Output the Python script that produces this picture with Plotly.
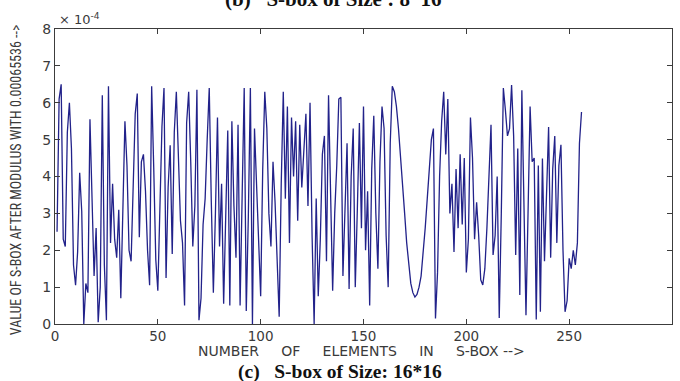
import plotly.graph_objects as go

# S-box element index and value (in units of 1e-4)
values_e4 = [
    2.5, 6.1, 6.5, 2.3, 2.1, 5.2, 6.0, 4.75, 1.6, 1.05,
    1.95, 4.1, 3.05, 0.0, 1.1, 0.85, 5.55, 3.6, 1.3, 2.6,
    0.05, 1.0, 6.2, 1.6, 0.1, 6.45, 2.2, 3.8, 2.3, 1.8,
    3.1, 0.7, 3.0, 5.5, 4.3, 2.0, 1.7, 3.8, 5.7, 6.25,
    2.35, 4.4, 4.6, 3.6, 2.0, 1.05, 6.45, 4.25, 1.75, 0.9,
    3.1, 5.35, 6.4, 1.25, 3.7, 4.85, 1.9, 5.2, 6.3, 4.5,
    2.8, 2.2, 0.5, 5.45, 6.3, 4.4, 2.1, 3.2, 6.35, 0.1,
    0.7, 2.7, 3.4, 5.0, 6.4, 3.3, 0.85, 3.0, 5.6, 2.1,
    3.8, 0.55, 2.6, 5.25, 0.5, 5.5, 3.2, 1.8, 5.4, 0.5,
    3.5, 6.4, 0.35, 2.9, 6.4, 0.0, 5.3, 3.6, 2.0, 0.75,
    4.2, 6.3, 5.3, 3.0, 2.1, 4.4, 3.3, 1.5, 0.2, 3.8,
    6.3, 3.4, 5.9, 2.2, 5.6, 4.0, 5.5, 2.8, 5.4, 3.7,
    4.6, 5.7, 3.2, 6.0, 2.4, 0.0, 3.4, 0.75, 2.3, 4.6,
    5.1, 1.7, 6.2, 3.4, 0.9, 3.0, 4.3, 6.1, 6.15, 1.3,
    3.5, 4.9, 0.95, 4.0, 5.3, 1.0, 3.1, 5.45, 2.6, 5.9,
    2.0, 3.6, 0.5, 4.2, 5.65, 3.0, 1.5, 4.4, 5.9, 5.3,
    2.4, 1.0, 4.9, 6.45, 6.3, 5.9, 5.3, 4.6, 3.8, 3.0,
    2.2, 1.6, 1.1, 0.85, 0.73, 0.8, 1.0, 1.3, 1.9, 2.6,
    3.4, 4.2, 5.0, 5.3, 0.15, 1.4, 4.0, 5.5, 6.3, 4.6,
    6.1, 3.0, 3.8, 1.95, 4.2, 2.6, 4.6, 2.7, 4.5, 1.4,
    2.3, 5.6, 4.5, 2.3, 3.3, 2.4, 1.2, 1.06, 1.5, 2.6,
    4.0, 5.4, 1.87, 2.4, 4.0, 0.16, 3.0, 6.4, 5.8, 5.1,
    5.3, 6.48, 5.1, 1.87, 4.76, 0.79, 6.34, 3.5, 0.24, 3.0,
    5.9, 4.4, 4.5, 0.12, 4.3, 0.33, 4.49, 1.7, 3.8, 5.34,
    1.8, 4.2, 5.1, 2.2, 4.3, 4.86, 2.0, 0.33, 0.63, 1.78,
    1.5, 2.0, 1.6, 2.2, 4.9, 5.75,
]
elements = list(range(1, len(values_e4) + 1))

x_ticks = [0, 50, 100, 150, 200, 250, 300]
y_ticks = [0, 1, 2, 3, 4, 5, 6, 7, 8]

axis_col = "#3c3c3c"
text_col = "#3a3a3a"
wide = "DejaVu Sans, Verdana, sans-serif"
narrow = "Liberation Sans Narrow, Arial Narrow, Roboto Condensed, Arial, sans-serif"
serif = "Liberation Serif, Times New Roman, serif"

fig = go.Figure()
fig.add_trace(go.Scatter(
    x=elements, y=values_e4, mode="lines",
    line=dict(color="#22228a", width=1.3),
    hoverinfo="skip", showlegend=False,
))

fig.update_layout(
    width=680, height=381,
    margin=dict(l=55, r=8, t=29, b=57),
    paper_bgcolor="white", plot_bgcolor="white",
    font=dict(family=wide, color=text_col, size=14),
    xaxis=dict(
        range=[0, 300], tickvals=x_ticks, ticktext=[str(v) for v in x_ticks],
        ticks="inside", ticklen=5, tickcolor=axis_col,
        showline=True, linecolor=axis_col, linewidth=1, mirror="ticks",
        showgrid=False, zeroline=False,
        tickfont=dict(size=13.5, color=text_col, family=wide),
    ),
    yaxis=dict(
        range=[0, 8], tickvals=y_ticks, ticktext=[str(v) for v in y_ticks],
        ticks="inside", ticklen=5, tickcolor=axis_col,
        showline=True, linecolor=axis_col, linewidth=1, mirror="ticks",
        showgrid=False, zeroline=False,
        tickfont=dict(size=14, color=text_col, family=wide),
    ),
)

gap = "\u00a0" * 5
annots = [
    dict(text="\u00d7 10<sup>-4</sup>", x=0.004, y=1.0, xanchor="left", yanchor="bottom",
         font=dict(size=13, color=text_col, family=wide)),
    dict(text=f"NUMBER{gap}OF{gap}ELEMENTS{gap}IN{gap}S-BOX -->",
         x=0.496, y=-0.09, xanchor="center", yanchor="middle",
         font=dict(size=14, color=text_col, family=wide)),
    dict(text="VALUE OF S-BOX AFTER MODULUS WITH 0.00065536 -->", textangle=-90,
         x=-0.062, y=0.49, xanchor="center", yanchor="middle",
         font=dict(size=14, color=text_col, family=narrow)),
    dict(text="<b>(c)\u00a0\u00a0\u00a0S-box of Size: 16*16</b>", x=0.462, y=-0.162,
         xanchor="center", yanchor="middle",
         font=dict(size=19.5, color="#111111", family=serif)),
    dict(text="<b>(b)\u00a0\u00a0\u00a0S-box of Size : 8*16</b>", x=0.45, y=1.102,
         xanchor="center", yanchor="middle",
         font=dict(size=21, color="#111111", family=serif)),
]
for a in annots:
    a.update(xref="paper", yref="paper", showarrow=False)
    fig.add_annotation(**a)

fig.write_html("out.html")
